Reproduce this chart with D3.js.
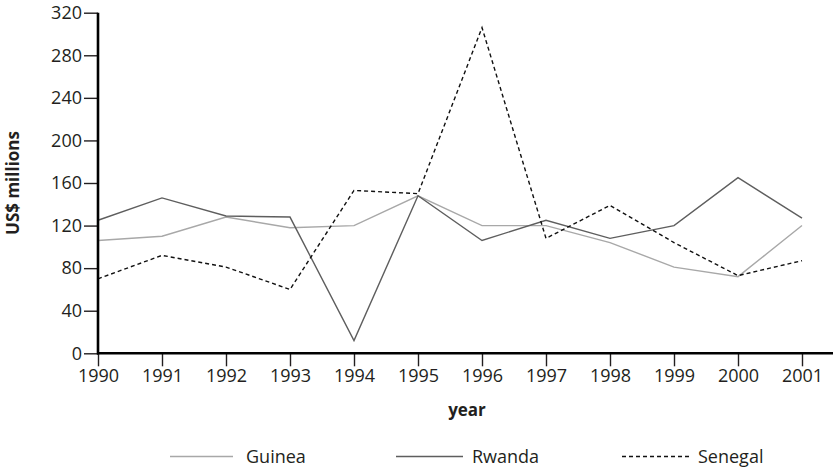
<!DOCTYPE html>
<html>
<head>
<meta charset="utf-8">
<script src="https://cdn.jsdelivr.net/npm/d3@7"></script>
<style>
  html, body { margin: 0; padding: 0; background: #fff; }
  svg text { font-family: "Open Sans", "Noto Sans", sans-serif; fill: #231f20; }
</style>
</head>
<body>
<svg id="chart" width="835" height="468"></svg>
<script>
const years = [1990, 1991, 1992, 1993, 1994, 1995, 1996, 1997, 1998, 1999, 2000, 2001];
const guinea  = [106, 110, 128, 118, 120, 148, 120, 120, 104, 81, 72, 120];
const rwanda  = [125, 146, 129, 128, 12, 148, 106, 125, 108, 120, 165, 127];
const senegal = [70, 92, 81, 60, 153, 150, 306, 108, 139, 104, 73, 87];
const yTicks  = [0, 40, 80, 120, 160, 200, 240, 280, 320];
const seriesNames = ["Guinea", "Rwanda", "Senegal"];

const svg = d3.select("#chart");
const x = d3.scaleLinear().domain([1990, 2001]).range([98, 802]);
const y = d3.scaleLinear().domain([0, 320]).range([353.3, 12.7]);

const styles = {
  Guinea:  { stroke: "#a8a8a8", dash: null, width: 1.4 },
  Rwanda:  { stroke: "#5e5e5e", dash: null, width: 1.4 },
  Senegal: { stroke: "#111111", dash: "4,3", width: 1.4 }
};
const dataBy = { Guinea: guinea, Rwanda: rwanda, Senegal: senegal };

const line = d3.line().x((d, i) => x(years[i])).y(d => y(d));

seriesNames.forEach(name => {
  const s = styles[name];
  svg.append("path")
    .datum(dataBy[name])
    .attr("fill", "none")
    .attr("stroke", s.stroke)
    .attr("stroke-width", s.width)
    .attr("stroke-dasharray", s.dash)
    .attr("stroke-linejoin", "miter")
    .attr("d", line);
});

// Y axis
const yAxis = d3.axisLeft(y).tickValues(yTicks).tickSize(14).tickPadding(2).tickFormat(d3.format("d"));
const gy = svg.append("g").attr("transform", "translate(98,0)").call(yAxis);
gy.select(".domain").remove();
gy.selectAll(".tick line").attr("stroke", "#231f20").attr("stroke-width", 1.4);
gy.selectAll(".tick text").attr("font-size", 18).attr("fill", "#231f20");
svg.append("line").attr("x1", 98).attr("x2", 98).attr("y1", y(320)).attr("y2", y(0) + 1.2)
  .attr("stroke", "#000").attr("stroke-width", 2.6);

// X axis
const xAxis = d3.axisBottom(x).tickValues(years).tickSize(13).tickPadding(3).tickFormat(d3.format("d"));
const gx = svg.append("g").attr("transform", `translate(0,${y(0)})`).call(xAxis);
gx.select(".domain").remove();
gx.selectAll(".tick line").attr("stroke", "#231f20").attr("stroke-width", 1.4);
gx.selectAll(".tick text").attr("font-size", 18).attr("fill", "#231f20");
svg.append("line").attr("x1", 97).attr("x2", 833).attr("y1", y(0)).attr("y2", y(0))
  .attr("stroke", "#000").attr("stroke-width", 2.6);

// Axis titles
svg.append("text").attr("x", 467).attr("y", 416).attr("text-anchor", "middle")
  .attr("font-size", 17).attr("font-weight", "bold").text("year");
svg.append("text").attr("transform", "translate(19,183) rotate(-90)").attr("text-anchor", "middle")
  .attr("font-size", 17).attr("font-weight", "bold").text("US$ millions");

// Legend
const legend = [
  { name: "Guinea", x1: 170, x2: 233, tx: 246 },
  { name: "Rwanda", x1: 396, x2: 463, tx: 472 },
  { name: "Senegal", x1: 622, x2: 690, tx: 698 }
];
legend.forEach(l => {
  const s = styles[l.name];
  svg.append("line").attr("x1", l.x1).attr("x2", l.x2).attr("y1", 456.5).attr("y2", 456.5)
    .attr("stroke", s.stroke).attr("stroke-width", s.width).attr("stroke-dasharray", s.dash);
  svg.append("text").attr("x", l.tx).attr("y", 462.5).attr("font-size", 18).text(l.name);
});
</script>
</body>
</html>
